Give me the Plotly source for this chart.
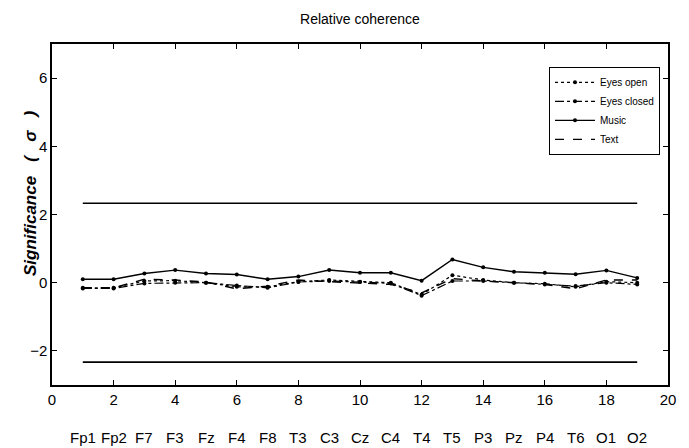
import plotly.graph_objects as go

electrodes = ["Fp1", "Fp2", "F7", "F3", "Fz", "F4", "F8", "T3", "C3", "Cz",
              "C4", "T4", "T5", "P3", "Pz", "P4", "T6", "O1", "O2"]
positions = list(range(1, 20))

music = [0.10, 0.10, 0.27, 0.37, 0.27, 0.24, 0.10, 0.18, 0.37, 0.29,
         0.29, 0.06, 0.68, 0.45, 0.32, 0.29, 0.25, 0.36, 0.14]
eyes_open = [-0.15, -0.15, 0.05, 0.06, 0.00, -0.12, -0.12, 0.03, 0.08, 0.03,
             0.00, -0.35, 0.22, 0.08, 0.00, -0.03, -0.12, 0.03, 0.00]
eyes_closed = [-0.17, -0.17, -0.02, 0.00, 0.00, -0.08, -0.15, 0.02, 0.05, 0.02,
               -0.02, -0.38, 0.05, 0.05, 0.00, -0.05, -0.10, 0.00, -0.05]
text_cond = [-0.15, -0.15, 0.10, 0.08, 0.02, -0.18, -0.10, 0.08, 0.03, 0.00,
             -0.05, -0.30, 0.12, 0.05, 0.00, -0.05, -0.18, 0.08, 0.08]

sig_level = 2.33
sig_x = [1, 19]

x_ticks = list(range(0, 21, 2))
y_ticks = [-2, 0, 2, 4, 6]

FONT = "Liberation Sans, Arial, sans-serif"

# The page body adds an 8px offset; the figure is sized to compensate.
W, H = 681, 440
ML, MR, MT, MB = 44, 21, 36, 63
plot_w = W - ML - MR
plot_h = H - MT - MB

fig = go.Figure()

fig.add_trace(go.Scatter(x=positions, y=eyes_open, name="Eyes open", mode="lines+markers",
                         line=dict(color="black", width=1.2, dash="dot"),
                         marker=dict(color="black", size=4)))
fig.add_trace(go.Scatter(x=positions, y=eyes_closed, name="Eyes closed", mode="lines+markers",
                         line=dict(color="black", width=1.2, dash="dashdot"),
                         marker=dict(color="black", size=4)))
fig.add_trace(go.Scatter(x=positions, y=music, name="Music", mode="lines+markers",
                         line=dict(color="black", width=1.4, dash="solid"),
                         marker=dict(color="black", size=4)))
fig.add_trace(go.Scatter(x=positions, y=text_cond, name="Text", mode="lines",
                         line=dict(color="black", width=1.4, dash="dash")))

for lvl in (sig_level, -sig_level):
    fig.add_trace(go.Scatter(x=sig_x, y=[lvl, lvl], mode="lines", showlegend=False,
                             line=dict(color="black", width=1.6), hoverinfo="skip"))

for xv, lab in zip(positions, electrodes):
    fig.add_annotation(x=xv, y=-52 / plot_h, xref="x", yref="paper", text=lab,
                       showarrow=False,
                       font=dict(family=FONT, size=15, color="black"),
                       xanchor="center", yanchor="middle")

# y-axis title placed as a rotated annotation
fig.add_annotation(x=-22 / plot_w, y=1 - (185 - MT) / plot_h, xref="paper", yref="paper",
                   text="<b><i>Significance   (   σ   )</i></b>", textangle=-90,
                   showarrow=False, xanchor="center", yanchor="middle",
                   font=dict(family=FONT, size=17, color="black"))

fig.update_layout(
    width=W, height=H,
    margin=dict(l=ML, r=MR, t=MT, b=MB),
    paper_bgcolor="white", plot_bgcolor="white",
    title=dict(text="Relative coherence", x=(ML + 308) / W, xanchor="center",
               y=1 - 11 / H, yanchor="middle",
               font=dict(family=FONT, size=14, color="black")),
    legend=dict(x=0.987, y=0.933, xanchor="right", yanchor="top",
                bordercolor="black", borderwidth=1, bgcolor="white",
                font=dict(family=FONT, size=10, color="black"),
                tracegroupgap=0, itemwidth=40),
    showlegend=True,
)

fig.update_xaxes(range=[0, 20], tickvals=x_ticks, ticks="inside", ticklen=5,
                 showgrid=False, zeroline=False, showline=True, linecolor="black",
                 linewidth=1.5, mirror="ticks", tickcolor="black",
                 tickfont=dict(family=FONT, size=15, color="black"))
fig.update_yaxes(range=[-3, 7], tickvals=y_ticks, ticks="inside", ticklen=5,
                 showgrid=False, zeroline=False, showline=True, linecolor="black",
                 linewidth=1.5, mirror="ticks", tickcolor="black",
                 tickfont=dict(family=FONT, size=15, color="black"))

fig.write_html("out.html")
